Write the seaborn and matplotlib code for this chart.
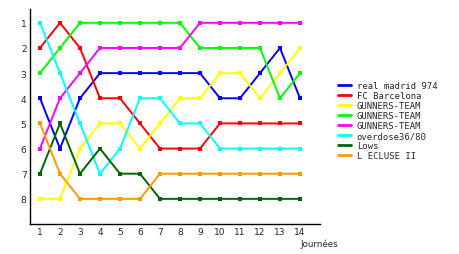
import matplotlib
matplotlib.use("Agg")
import matplotlib.pyplot as plt
import seaborn as sns
import pandas as pd

journees = list(range(1, 15))
teams = ["real madrid 974", "FC Barcelona", "GUNNERS-TEAM", "GUNNERS-TEAM",
         "GUNNERS-TEAM", "overdose36/80", "Lows", "L ECLUSE II"]
real_madrid = [4, 6, 4, 3, 3, 3, 3, 3, 3, 4, 4, 3, 2, 4]
fc_barcelona = [2, 1, 2, 4, 4, 5, 6, 6, 6, 5, 5, 5, 5, 5]
gunners_1 = [8, 8, 6, 5, 5, 6, 5, 4, 4, 3, 3, 4, 3, 2]
gunners_2 = [3, 2, 1, 1, 1, 1, 1, 1, 2, 2, 2, 2, 4, 3]
gunners_3 = [6, 4, 3, 2, 2, 2, 2, 2, 1, 1, 1, 1, 1, 1]
overdose = [1, 3, 5, 7, 6, 4, 4, 5, 5, 6, 6, 6, 6, 6]
lows = [7, 5, 7, 6, 7, 7, 8, 8, 8, 8, 8, 8, 8, 8]
ecluse = [5, 7, 8, 8, 8, 8, 7, 7, 7, 7, 7, 7, 7, 7]
colors = ["#0000ff", "#ff0000", "#ffff00", "#00ff00", "#ff00ff", "#00ffff",
          "#006600", "#ff9900"]

series = [real_madrid, fc_barcelona, gunners_1, gunners_2, gunners_3,
          overdose, lows, ecluse]
rows = []
for i, vals in enumerate(series):
    for j, v in zip(journees, vals):
        rows.append({"id": f"s{i}", "journee": j, "rang": v})
df = pd.DataFrame(rows)

sns.set_style("white")
plt.rcParams["font.family"] = ["DejaVu Sans"]

fig = plt.figure(figsize=(4.6, 2.55), dpi=100)
ax = fig.add_axes([30/460, 1-225/255, 290/460, 215/255])
palette = {f"s{i}": c for i, c in enumerate(colors)}
sns.lineplot(data=df, x="journee", y="rang", hue="id", palette=palette,
             marker="s", markersize=2.8, markeredgewidth=0, linewidth=1.4,
             ax=ax, legend=True)

ax.set_xlim(0.5, 15)
ax.set_ylim(9, 0.45)
ax.set_xticks(journees)
ax.set_yticks(range(1, 9))
ax.tick_params(axis="both", length=0, labelsize=6.5, pad=2.5)
for s in ["top", "right"]:
    ax.spines[s].set_visible(False)
for s in ["left", "bottom"]:
    ax.spines[s].set_color("black")
    ax.spines[s].set_linewidth(1)
ax.set_xlabel("")
ax.set_ylabel("")
fig.text(300/460, 1-244/255, "Journées", fontsize=6.3, ha="left", va="center")

handles, _ = ax.get_legend_handles_labels()
ax.legend(handles, teams, loc="upper left", bbox_to_anchor=(338/460, 1-82/255),
          bbox_transform=fig.transFigure, frameon=False,
          prop={"family": "DejaVu Sans Mono", "size": 6.4},
          handlelength=1.5, handletextpad=0.6, labelspacing=0.12,
          borderpad=0, borderaxespad=0)
for h in ax.get_legend().get_lines():
    h.set_marker("")
    h.set_linewidth(2)

fig.savefig("out.png", dpi=100)
